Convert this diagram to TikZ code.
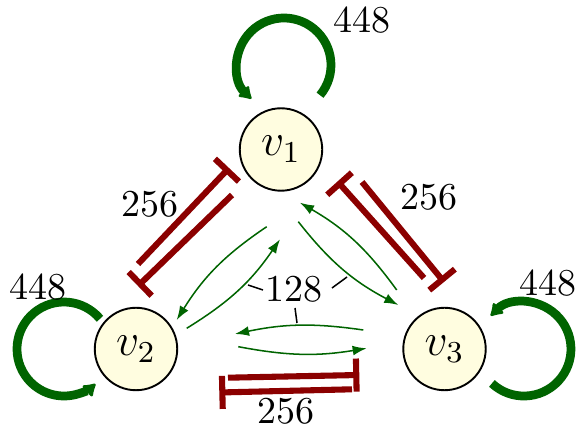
\documentclass[tikz,border=0pt]{standalone}
\usetikzlibrary{arrows.meta}
\definecolor{rep}{RGB}{139,0,0}
\definecolor{act}{RGB}{0,100,0}
\definecolor{nodefill}{RGB}{255,253,224}
\begin{document}
\begin{tikzpicture}[x=0.2632pt,y=-0.2632pt,
  vertex/.style={circle,draw=black,line width=0.5pt,fill=nodefill,minimum size=21.7pt,inner sep=0pt,font=\large},
  selfloop/.style={act,line width=2.3pt,-{Latex[length=3.6pt,width=4.8pt,round]}},
  inhib/.style={rep,line width=1.6pt,-{Bar[width=8.7pt]}},
  activ/.style={act,line width=0.4pt,-{Latex[length=3.7pt,width=2.6pt]}},
  pinline/.style={black,line width=0.4pt},
  lbl/.style={inner sep=0pt}]
\useasboundingbox (0,0) rectangle (587,430);
% vertices
\node[vertex] (v1) at (281,149.5) {$v_1$};
\node[vertex] (v2) at (136,349) {$v_2$};
\node[vertex] (v3) at (444.5,349) {$v_3$};
% self loops
\draw[selfloop] ([shift={(39,-54.3)}]v1.center) arc[start angle=-40,end angle=226,radius=12.37pt];
\draw[selfloop] ([shift={(-36,-30.2)}]v2.center) arc[start angle=40,end angle=312,radius=12.37pt];
\draw[selfloop] ([shift={(47.4,34.4)}]v3.center) arc[start angle=-133,end angle=135,radius=12.37pt];
\node[lbl] (l1) at (362,20) {448};
\node[lbl] (l2) at (38,287) {448};
\node[lbl] (l3) at (548,283) {448};
% inhibition bars
\coordinate (r1s) at (138,264);   \coordinate (r1e) at (229,168);
\coordinate (r2s) at (232,195);   \coordinate (r2e) at (138,286);
\coordinate (r3s) at (424,278);   \coordinate (r3e) at (337.5,181.5);
\coordinate (r4s) at (362,182);   \coordinate (r4e) at (444,282);
\coordinate (r5s) at (228,377.7); \coordinate (r5e) at (359.3,375);
\coordinate (r6s) at (352,389.3); \coordinate (r6e) at (219.3,392.5);
\draw[inhib] (r1s) -- (r1e);
\draw[inhib] (r2s) -- (r2e);
\draw[inhib] (r3s) -- (r3e);
\draw[inhib] (r4s) -- (r4e);
\draw[inhib] (r5s) -- (r5e);
\draw[inhib] (r6s) -- (r6e);
\node[lbl] (w12) at (150,204) {256};
\node[lbl] (w13) at (429,197) {256};
\node[lbl] (w23) at (286,411) {256};
% activations
\coordinate (a1s) at (266.7,226.7); \coordinate (a1e) at (176.7,320);
\coordinate (a2s) at (186.7,328.3); \coordinate (a2e) at (280,239.3);
\coordinate (a3s) at (298.3,221.7); \coordinate (a3e) at (398.3,305);
\coordinate (a4s) at (396.7,290);   \coordinate (a4e) at (300,202.7);
\coordinate (a5s) at (363.3,330);   \coordinate (a5e) at (235,334);
\coordinate (a6s) at (238.3,346.7); \coordinate (a6e) at (366.7,348.3);
\draw[activ] (a1s) to[bend right=12] (a1e);
\draw[activ] (a2s) to[bend right=12] (a2e);
\draw[activ] (a3s) to[bend right=12] (a3e);
\draw[activ] (a4s) to[bend right=12] (a4e);
\draw[activ] (a5s) to[bend right=10] (a5e);
\draw[activ] (a6s) to[bend right=10] (a6e);
% central label with pins
\node[lbl] (w0) at (294,289) {128};
\coordinate (p1a) at (248,285); \coordinate (p1b) at (263,290);
\coordinate (p2a) at (332,288); \coordinate (p2b) at (347,277);
\coordinate (p3a) at (295,308); \coordinate (p3b) at (297,323);
\draw[pinline] (p1a) -- (p1b);
\draw[pinline] (p2a) -- (p2b);
\draw[pinline] (p3a) -- (p3b);
\end{tikzpicture}
\end{document}
